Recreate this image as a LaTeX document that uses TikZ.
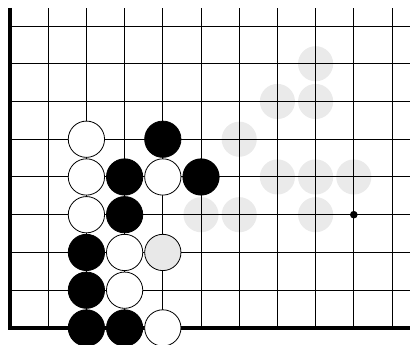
\documentclass[tikz,border=0pt]{standalone}
\usetikzlibrary{positioning}
\definecolor{ghostgray}{RGB}{234,234,234}
\definecolor{paleface}{RGB}{232,232,232}
\tikzset{
  gridline/.style={line width=0.7pt, color=black},
  edgeline/.style={line width=2.5pt, color=black},
  bstone/.style={circle, draw=black, fill=black, minimum size=0.95cm,
    inner sep=0pt, line width=0.6pt},
  wstone/.style={circle, draw=black, fill=white, minimum size=0.95cm,
    inner sep=0pt, line width=0.6pt},
  pstone/.style={circle, draw=black, fill=paleface, minimum size=0.95cm,
    inner sep=0pt, line width=0.6pt},
  ghost/.style={circle, fill=ghostgray, minimum size=0.92cm, inner sep=0pt},
  hoshi/.style={circle, fill=black, minimum size=0.2cm, inner sep=0pt}
}

\begin{document}
\begin{tikzpicture}[x=1cm, y=0.988cm]
  \useasboundingbox (-0.262,-0.45) rectangle (10.471,8.689);
  % Faint stones under the grid
  \foreach \c/\r in {8/7, 7/6, 8/6, 6/5, 7/4, 8/4, 9/4, 5/3, 6/3, 8/3}
    \node[ghost] (g\c-\r) at (\c,\r) {};
  % Grid
  \foreach \i in {1,...,10}
    \draw[gridline] (\i,0) -- (\i,8.48);
  \foreach \j in {1,...,8}
    \draw[gridline] (0,\j) -- (10.471,\j);
  % Board edges
  \draw[edgeline] (0,8.48) -- (0,0) -- (10.471,0);
  % Point mark
  \node[hoshi] (mark) at (9,3) {};
  % White stones
  \foreach \c/\r in {2/5, 2/4, 4/4, 2/3, 3/2, 3/1, 4/0}
    \node[wstone] (w\c-\r) at (\c,\r) {};
  \node[pstone] (p4-2) at (4,2) {};
  % Black stones
  \foreach \c/\r in {4/5, 3/4, 5/4, 3/3, 2/2, 2/1, 2/0, 3/0}
    \node[bstone] (b\c-\r) at (\c,\r) {};
\end{tikzpicture}
\end{document}
